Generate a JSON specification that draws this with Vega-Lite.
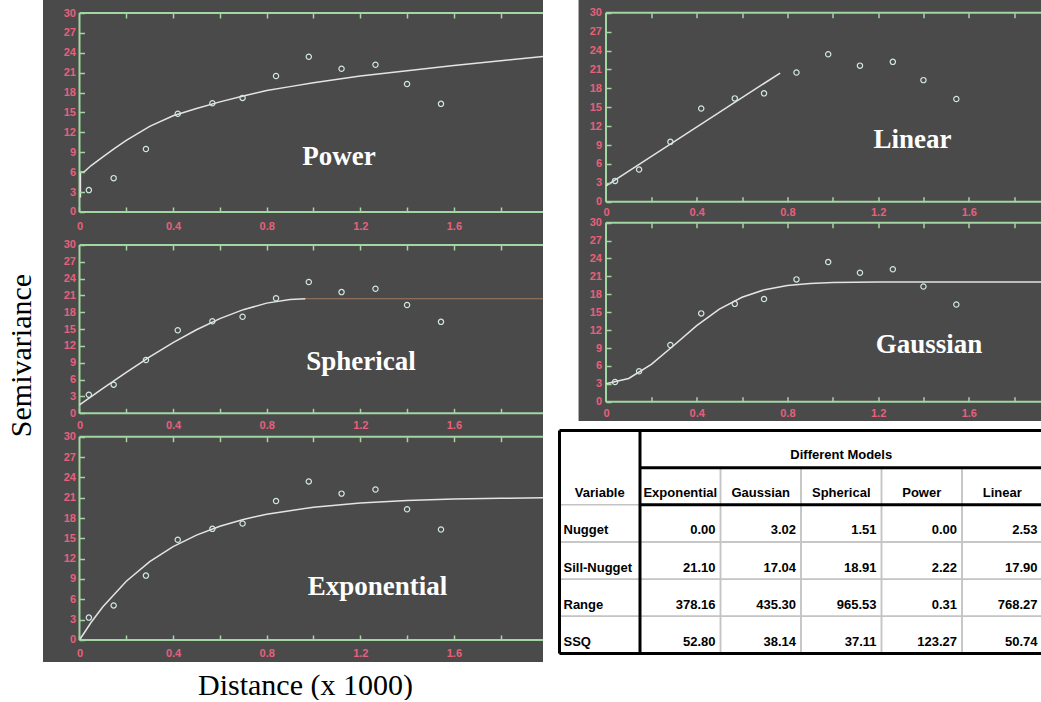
{
  "$schema": "https://vega.github.io/schema/vega-lite/v6.json",
  "background": "white",
  "padding": {"left": 6, "top": 0, "right": 0, "bottom": 0},
  "spacing": 14.5,
  "config": {
    "view": {"stroke": null},
    "axis": {
      "labelFont": "Liberation Sans", "labelFontSize": 11, "labelFontWeight": "bold", "labelColor": "#e8607c",
      "tickColor": "#a3d6a3", "tickWidth": 1.5, "tickSize": -5, "domain": false, "grid": false, "zindex": 1,
      "labelOverlap": false, "labelFlush": false, "labelBound": false, "labelAngle": 0
    }
  },
  "datasets": {
    "points": [
      {"d": 0.04, "g": 3.3}, {"d": 0.146, "g": 5.1}, {"d": 0.284, "g": 9.5}, {"d": 0.42, "g": 14.8},
      {"d": 0.568, "g": 16.4}, {"d": 0.697, "g": 17.2}, {"d": 0.84, "g": 20.5}, {"d": 0.98, "g": 23.4},
      {"d": 1.12, "g": 21.6}, {"d": 1.265, "g": 22.2}, {"d": 1.4, "g": 19.3}, {"d": 1.545, "g": 16.3}
    ],
    "curves": [
      {"m": "Power", "d": 0.004, "g": 2.2}, {"m": "Power", "d": 0.004, "g": 6.0}, {"m": "Power", "d": 0.02, "g": 6.05},
      {"m": "Power", "d": 0.05, "g": 7.0}, {"m": "Power", "d": 0.1, "g": 8.3}, {"m": "Power", "d": 0.15, "g": 9.6},
      {"m": "Power", "d": 0.2, "g": 10.8}, {"m": "Power", "d": 0.3, "g": 12.9}, {"m": "Power", "d": 0.4, "g": 14.5},
      {"m": "Power", "d": 0.5, "g": 15.6}, {"m": "Power", "d": 0.6, "g": 16.6}, {"m": "Power", "d": 0.7, "g": 17.5},
      {"m": "Power", "d": 0.8, "g": 18.3}, {"m": "Power", "d": 0.9, "g": 18.9}, {"m": "Power", "d": 1.0, "g": 19.5},
      {"m": "Power", "d": 1.2, "g": 20.5}, {"m": "Power", "d": 1.4, "g": 21.3}, {"m": "Power", "d": 1.6, "g": 22.1},
      {"m": "Power", "d": 1.8, "g": 22.8}, {"m": "Power", "d": 2.0, "g": 23.5},
      {"m": "Linear", "d": 0.0, "g": 2.53}, {"m": "Linear", "d": 0.768, "g": 20.43},
      {"m": "Spherical", "d": 0.0, "g": 1.51}, {"m": "Spherical", "d": 0.1, "g": 4.44}, {"m": "Spherical", "d": 0.2, "g": 7.3},
      {"m": "Spherical", "d": 0.3, "g": 10.04}, {"m": "Spherical", "d": 0.4, "g": 12.59}, {"m": "Spherical", "d": 0.5, "g": 14.89},
      {"m": "Spherical", "d": 0.6, "g": 16.87}, {"m": "Spherical", "d": 0.7, "g": 18.47}, {"m": "Spherical", "d": 0.8, "g": 19.64},
      {"m": "Spherical", "d": 0.9, "g": 20.29}, {"m": "Spherical", "d": 0.9655, "g": 20.42},
      {"m": "Spherical sill", "d": 0.9655, "g": 20.42}, {"m": "Spherical sill", "d": 2.0, "g": 20.42},
      {"m": "Exponential", "d": 0.0, "g": 0.0}, {"m": "Exponential", "d": 0.05, "g": 2.61}, {"m": "Exponential", "d": 0.1, "g": 4.9},
      {"m": "Exponential", "d": 0.2, "g": 8.67}, {"m": "Exponential", "d": 0.3, "g": 11.56}, {"m": "Exponential", "d": 0.4, "g": 13.78},
      {"m": "Exponential", "d": 0.5, "g": 15.48}, {"m": "Exponential", "d": 0.6, "g": 16.78}, {"m": "Exponential", "d": 0.7, "g": 17.79},
      {"m": "Exponential", "d": 0.8, "g": 18.56}, {"m": "Exponential", "d": 1.0, "g": 19.6}, {"m": "Exponential", "d": 1.2, "g": 20.22},
      {"m": "Exponential", "d": 1.4, "g": 20.58}, {"m": "Exponential", "d": 1.6, "g": 20.79}, {"m": "Exponential", "d": 1.8, "g": 20.92},
      {"m": "Exponential", "d": 2.0, "g": 20.99},
      {"m": "Gaussian", "d": 0.0, "g": 3.02}, {"m": "Gaussian", "d": 0.1, "g": 3.9}, {"m": "Gaussian", "d": 0.2, "g": 6.26},
      {"m": "Gaussian", "d": 0.3, "g": 9.46}, {"m": "Gaussian", "d": 0.4, "g": 12.74}, {"m": "Gaussian", "d": 0.5, "g": 15.51},
      {"m": "Gaussian", "d": 0.6, "g": 17.51}, {"m": "Gaussian", "d": 0.7, "g": 18.78}, {"m": "Gaussian", "d": 0.8, "g": 19.48},
      {"m": "Gaussian", "d": 0.9, "g": 19.82}, {"m": "Gaussian", "d": 1.0, "g": 19.97}, {"m": "Gaussian", "d": 1.2, "g": 20.05},
      {"m": "Gaussian", "d": 1.6, "g": 20.06}, {"m": "Gaussian", "d": 2.0, "g": 20.06}
    ],
    "cells": [
      {"r": "header", "c": "Variable", "t": "Variable"}, {"r": "header", "c": "Exponential", "t": "Exponential"},
      {"r": "header", "c": "Gaussian", "t": "Gaussian"}, {"r": "header", "c": "Spherical", "t": "Spherical"},
      {"r": "header", "c": "Power", "t": "Power"}, {"r": "header", "c": "Linear", "t": "Linear"},
      {"r": "Nugget", "c": "Variable", "t": "Nugget"}, {"r": "Nugget", "c": "Exponential", "t": "0.00"},
      {"r": "Nugget", "c": "Gaussian", "t": "3.02"}, {"r": "Nugget", "c": "Spherical", "t": "1.51"},
      {"r": "Nugget", "c": "Power", "t": "0.00"}, {"r": "Nugget", "c": "Linear", "t": "2.53"},
      {"r": "Sill-Nugget", "c": "Variable", "t": "Sill-Nugget"}, {"r": "Sill-Nugget", "c": "Exponential", "t": "21.10"},
      {"r": "Sill-Nugget", "c": "Gaussian", "t": "17.04"}, {"r": "Sill-Nugget", "c": "Spherical", "t": "18.91"},
      {"r": "Sill-Nugget", "c": "Power", "t": "2.22"}, {"r": "Sill-Nugget", "c": "Linear", "t": "17.90"},
      {"r": "Range", "c": "Variable", "t": "Range"}, {"r": "Range", "c": "Exponential", "t": "378.16"},
      {"r": "Range", "c": "Gaussian", "t": "435.30"}, {"r": "Range", "c": "Spherical", "t": "965.53"},
      {"r": "Range", "c": "Power", "t": "0.31"}, {"r": "Range", "c": "Linear", "t": "768.27"},
      {"r": "SSQ", "c": "Variable", "t": "SSQ"}, {"r": "SSQ", "c": "Exponential", "t": "52.80"},
      {"r": "SSQ", "c": "Gaussian", "t": "38.14"}, {"r": "SSQ", "c": "Spherical", "t": "37.11"},
      {"r": "SSQ", "c": "Power", "t": "123.27"}, {"r": "SSQ", "c": "Linear", "t": "50.74"}
    ]
  },
  "hconcat": [
    {
      "spacing": 0,
      "bounds": "flush",
      "vconcat": [
        {
          "width": 500, "height": 234,
          "view": {"fill": "#4a4a4a", "stroke": null},
          "data": {"values": [{}]},
          "resolve": {"axis": {"x": "independent"}},
          "layer": [
            {"mark": {"type": "rule", "color": "#a3d6a3", "strokeWidth": 2, "clip": true},
             "encoding": {"x": {"datum": 0, "type": "quantitative", "scale": {"domain": [-0.156, 1.981], "nice": false, "zero": false},
                                "axis": {"orient": "top", "values": [0.2, 0.4, 0.6, 0.8, 1.0, 1.2, 1.4, 1.6, 1.8], "tickCount": 30, "labels": false, "offset": -13, "title": null, "zindex": 1}},
                          "x2": {"datum": 2.3},
                          "y": {"datum": 30, "type": "quantitative", "scale": {"domain": [-3.32, 31.96], "nice": false, "zero": false}}}},
            {"mark": {"type": "rule", "color": "#a3d6a3", "strokeWidth": 2, "clip": true},
             "encoding": {"x": {"datum": 0, "type": "quantitative", "scale": {"domain": [-0.156, 1.981], "nice": false, "zero": false}, "axis": null},
                          "x2": {"datum": 2.3},
                          "y": {"datum": 0, "type": "quantitative", "scale": {"domain": [-3.32, 31.96], "nice": false, "zero": false}}}},
            {"mark": {"type": "rule", "color": "#a3d6a3", "strokeWidth": 2},
             "encoding": {"x": {"datum": 0, "type": "quantitative", "scale": {"domain": [-0.156, 1.981], "nice": false, "zero": false}, "axis": null},
                          "y": {"datum": 0, "type": "quantitative", "scale": {"domain": [-3.32, 31.96], "nice": false, "zero": false}},
                          "y2": {"datum": 30}}},
            {"data": {"name": "curves"}, "transform": [{"filter": "datum.m == 'Power'"}],
             "mark": {"type": "line", "color": "#e4e4e4", "strokeWidth": 1.5, "clip": true},
             "encoding": {"x": {"field": "d", "type": "quantitative", "scale": {"domain": [-0.156, 1.981], "nice": false, "zero": false}, "axis": null},
                          "y": {"field": "g", "type": "quantitative", "scale": {"domain": [-3.32, 31.96], "nice": false, "zero": false}},
                          "order": {"field": "g", "type": "quantitative"}}},
            {"data": {"name": "points"},
             "mark": {"type": "point", "shape": "circle", "filled": false, "color": "#d2e6e6", "strokeWidth": 1.2, "size": 28, "opacity": 1},
             "encoding": {"x": {"field": "d", "type": "quantitative", "scale": {"domain": [-0.156, 1.981], "nice": false, "zero": false},
                                "axis": {"values": [0, 0.2, 0.4, 0.6, 0.8, 1.0, 1.2, 1.4, 1.6, 1.8], "tickCount": 30, "format": "~g", "labelExpr": "round(datum.value*5) % 2 == 0 ? datum.label : ''", "offset": -22, "labelPadding": 13, "title": null, "zindex": 1, "labelOverlap": false}},
                          "y": {"field": "g", "type": "quantitative", "scale": {"domain": [-3.32, 31.96], "nice": false, "zero": false},
                                "axis": {"values": [0, 3, 6, 9, 12, 15, 18, 21, 24, 27, 30], "tickCount": 30, "format": "d", "offset": -36.5, "labelPadding": 9, "title": null, "zindex": 1, "labelOverlap": false}}}},
            {"mark": {"type": "text", "text": "Power", "font": "Liberation Serif", "fontSize": 27, "fontWeight": "bold", "color": "white", "align": "center", "baseline": "middle"},
             "encoding": {"x": {"datum": 1.109, "type": "quantitative", "scale": {"domain": [-0.156, 1.981], "nice": false, "zero": false}, "axis": null},
                          "y": {"datum": 8.3, "type": "quantitative", "scale": {"domain": [-3.32, 31.96], "nice": false, "zero": false}}}}
          ]
        },
        {
          "width": 500, "height": 196,
          "view": {"fill": "#4a4a4a", "stroke": null},
          "data": {"values": [{}]},
          "resolve": {"axis": {"x": "independent"}},
          "layer": [
            {"mark": {"type": "rule", "color": "#a3d6a3", "strokeWidth": 2, "clip": true},
             "encoding": {"x": {"datum": 0, "type": "quantitative", "scale": {"domain": [-0.156, 1.981], "nice": false, "zero": false},
                                "axis": {"orient": "top", "values": [0.2, 0.4, 0.6, 0.8, 1.0, 1.2, 1.4, 1.6, 1.8], "tickCount": 30, "labels": false, "offset": -11, "title": null, "zindex": 1}},
                          "x2": {"datum": 2.3},
                          "y": {"datum": 30, "type": "quantitative", "scale": {"domain": [-2.98, 31.96], "nice": false, "zero": false}}}},
            {"mark": {"type": "rule", "color": "#a3d6a3", "strokeWidth": 2, "clip": true},
             "encoding": {"x": {"datum": 0, "type": "quantitative", "scale": {"domain": [-0.156, 1.981], "nice": false, "zero": false}, "axis": null},
                          "x2": {"datum": 2.3},
                          "y": {"datum": 0, "type": "quantitative", "scale": {"domain": [-2.98, 31.96], "nice": false, "zero": false}}}},
            {"mark": {"type": "rule", "color": "#a3d6a3", "strokeWidth": 2},
             "encoding": {"x": {"datum": 0, "type": "quantitative", "scale": {"domain": [-0.156, 1.981], "nice": false, "zero": false}, "axis": null},
                          "y": {"datum": 0, "type": "quantitative", "scale": {"domain": [-2.98, 31.96], "nice": false, "zero": false}},
                          "y2": {"datum": 30}}},
            {"data": {"name": "curves"}, "transform": [{"filter": "datum.m == 'Spherical sill'"}],
             "mark": {"type": "line", "color": "#a07a5c", "strokeWidth": 1, "clip": true},
             "encoding": {"x": {"field": "d", "type": "quantitative", "scale": {"domain": [-0.156, 1.981], "nice": false, "zero": false}, "axis": null},
                          "y": {"field": "g", "type": "quantitative", "scale": {"domain": [-2.98, 31.96], "nice": false, "zero": false}}}},
            {"data": {"name": "curves"}, "transform": [{"filter": "datum.m == 'Spherical'"}],
             "mark": {"type": "line", "color": "#e4e4e4", "strokeWidth": 1.5, "clip": true},
             "encoding": {"x": {"field": "d", "type": "quantitative", "scale": {"domain": [-0.156, 1.981], "nice": false, "zero": false}, "axis": null},
                          "y": {"field": "g", "type": "quantitative", "scale": {"domain": [-2.98, 31.96], "nice": false, "zero": false}}}},
            {"data": {"name": "points"},
             "mark": {"type": "point", "shape": "circle", "filled": false, "color": "#d2e6e6", "strokeWidth": 1.2, "size": 28, "opacity": 1},
             "encoding": {"x": {"field": "d", "type": "quantitative", "scale": {"domain": [-0.156, 1.981], "nice": false, "zero": false},
                                "axis": {"values": [0, 0.2, 0.4, 0.6, 0.8, 1.0, 1.2, 1.4, 1.6, 1.8], "tickCount": 30, "format": "~g", "labelExpr": "round(datum.value*5) % 2 == 0 ? datum.label : ''", "offset": -16.7, "labelPadding": 11, "title": null, "zindex": 1, "labelOverlap": false}},
                          "y": {"field": "g", "type": "quantitative", "scale": {"domain": [-2.98, 31.96], "nice": false, "zero": false},
                                "axis": {"values": [0, 3, 6, 9, 12, 15, 18, 21, 24, 27, 30], "tickCount": 30, "format": "d", "offset": -36.5, "labelPadding": 9, "zindex": 1, "labelOverlap": false,
                                         "title": "Semivariance", "titleFont": "Liberation Serif", "titleFontSize": 30, "titleFontWeight": "normal", "titleColor": "black",
                                         "titleX": -58.5, "titleY": 121, "titleAngle": 270, "titleAlign": "center", "titleBaseline": "middle"}}}},
            {"mark": {"type": "text", "text": "Spherical", "font": "Liberation Serif", "fontSize": 27, "fontWeight": "bold", "color": "white", "align": "center", "baseline": "middle"},
             "encoding": {"x": {"datum": 1.203, "type": "quantitative", "scale": {"domain": [-0.156, 1.981], "nice": false, "zero": false}, "axis": null},
                          "y": {"datum": 9.14, "type": "quantitative", "scale": {"domain": [-2.98, 31.96], "nice": false, "zero": false}}}}
          ]
        },
        {
          "width": 500, "height": 232,
          "view": {"fill": "#4a4a4a", "stroke": null},
          "data": {"values": [{}]},
          "resolve": {"axis": {"x": "independent"}},
          "layer": [
            {"mark": {"type": "rule", "color": "#a3d6a3", "strokeWidth": 2, "clip": true},
             "encoding": {"x": {"datum": 0, "type": "quantitative", "scale": {"domain": [-0.156, 1.981], "nice": false, "zero": false},
                                "axis": {"orient": "top", "values": [0.2, 0.4, 0.6, 0.8, 1.0, 1.2, 1.4, 1.6, 1.8], "tickCount": 30, "labels": false, "offset": -6.7, "title": null, "zindex": 1}},
                          "x2": {"datum": 2.3},
                          "y": {"datum": 30, "type": "quantitative", "scale": {"domain": [-3.25, 30.99], "nice": false, "zero": false}}}},
            {"mark": {"type": "rule", "color": "#a3d6a3", "strokeWidth": 2, "clip": true},
             "encoding": {"x": {"datum": 0, "type": "quantitative", "scale": {"domain": [-0.156, 1.981], "nice": false, "zero": false}, "axis": null},
                          "x2": {"datum": 2.3},
                          "y": {"datum": 0, "type": "quantitative", "scale": {"domain": [-3.25, 30.99], "nice": false, "zero": false}}}},
            {"mark": {"type": "rule", "color": "#a3d6a3", "strokeWidth": 2},
             "encoding": {"x": {"datum": 0, "type": "quantitative", "scale": {"domain": [-0.156, 1.981], "nice": false, "zero": false}, "axis": null},
                          "y": {"datum": 0, "type": "quantitative", "scale": {"domain": [-3.25, 30.99], "nice": false, "zero": false}},
                          "y2": {"datum": 30}}},
            {"data": {"name": "curves"}, "transform": [{"filter": "datum.m == 'Exponential'"}],
             "mark": {"type": "line", "color": "#e4e4e4", "strokeWidth": 1.5, "clip": true},
             "encoding": {"x": {"field": "d", "type": "quantitative", "scale": {"domain": [-0.156, 1.981], "nice": false, "zero": false}, "axis": null},
                          "y": {"field": "g", "type": "quantitative", "scale": {"domain": [-3.25, 30.99], "nice": false, "zero": false}}}},
            {"data": {"name": "points"},
             "mark": {"type": "point", "shape": "circle", "filled": false, "color": "#d2e6e6", "strokeWidth": 1.2, "size": 28, "opacity": 1},
             "encoding": {"x": {"field": "d", "type": "quantitative", "scale": {"domain": [-0.156, 1.981], "nice": false, "zero": false},
                                "axis": {"values": [0, 0.2, 0.4, 0.6, 0.8, 1.0, 1.2, 1.4, 1.6, 1.8], "tickCount": 30, "format": "~g", "labelExpr": "round(datum.value*5) % 2 == 0 ? datum.label : ''", "offset": -22, "labelPadding": 12.5, "zindex": 1, "labelOverlap": false,
                                         "title": "Distance (x 1000)", "titleFont": "Liberation Serif", "titleFontSize": 30, "titleFontWeight": "normal", "titleColor": "black",
                                         "titleX": 262, "titleY": 45, "titleAlign": "center", "titleBaseline": "middle"}},
                          "y": {"field": "g", "type": "quantitative", "scale": {"domain": [-3.25, 30.99], "nice": false, "zero": false},
                                "axis": {"values": [0, 3, 6, 9, 12, 15, 18, 21, 24, 27, 30], "tickCount": 30, "format": "d", "offset": -36.5, "labelPadding": 9, "title": null, "zindex": 1, "labelOverlap": false}}}},
            {"mark": {"type": "text", "text": "Exponential", "font": "Liberation Serif", "fontSize": 27, "fontWeight": "bold", "color": "white", "align": "center", "baseline": "middle"},
             "encoding": {"x": {"datum": 1.274, "type": "quantitative", "scale": {"domain": [-0.156, 1.981], "nice": false, "zero": false}, "axis": null},
                          "y": {"datum": 7.86, "type": "quantitative", "scale": {"domain": [-3.25, 30.99], "nice": false, "zero": false}}}}
          ]
        }
      ]
    },
    {
      "spacing": 7.5,
      "vconcat": [
        {
          "spacing": 0,
          "bounds": "flush",
          "vconcat": [
            {
              "width": 483, "height": 216,
              "view": {"stroke": null},
              "data": {"values": [{}]},
              "resolve": {"axis": {"x": "independent"}},
              "layer": [
                {"mark": {"type": "rect", "color": "#4a4a4a"},
                 "encoding": {"x": {"datum": -0.121, "type": "quantitative", "scale": {"domain": [-0.205, 1.925], "nice": false, "zero": false}, "axis": null},
                              "x2": {"datum": 1.925},
                              "y": {"datum": -2.27, "type": "quantitative", "scale": {"domain": [-2.27, 32.02], "nice": false, "zero": false}},
                              "y2": {"datum": 32.02}}},
                {"mark": {"type": "rule", "color": "#a3d6a3", "strokeWidth": 2, "clip": true},
                 "encoding": {"x": {"datum": 0, "type": "quantitative", "scale": {"domain": [-0.205, 1.925], "nice": false, "zero": false},
                                    "axis": {"orient": "top", "values": [0.2, 0.4, 0.6, 0.8, 1.0, 1.2, 1.4, 1.6, 1.8], "tickCount": 30, "labels": false, "offset": -12.7, "title": null, "zindex": 1}},
                              "x2": {"datum": 2.3},
                              "y": {"datum": 30, "type": "quantitative", "scale": {"domain": [-2.27, 32.02], "nice": false, "zero": false}}}},
                {"mark": {"type": "rule", "color": "#a3d6a3", "strokeWidth": 2, "clip": true},
                 "encoding": {"x": {"datum": 0, "type": "quantitative", "scale": {"domain": [-0.205, 1.925], "nice": false, "zero": false}, "axis": null},
                              "x2": {"datum": 2.3},
                              "y": {"datum": 0, "type": "quantitative", "scale": {"domain": [-2.27, 32.02], "nice": false, "zero": false}}}},
                {"mark": {"type": "rule", "color": "#a3d6a3", "strokeWidth": 2},
                 "encoding": {"x": {"datum": 0, "type": "quantitative", "scale": {"domain": [-0.205, 1.925], "nice": false, "zero": false}, "axis": null},
                              "y": {"datum": 0, "type": "quantitative", "scale": {"domain": [-2.27, 32.02], "nice": false, "zero": false}},
                              "y2": {"datum": 30}}},
                {"data": {"name": "curves"}, "transform": [{"filter": "datum.m == 'Linear'"}],
                 "mark": {"type": "line", "color": "#e4e4e4", "strokeWidth": 1.5, "clip": true},
                 "encoding": {"x": {"field": "d", "type": "quantitative", "scale": {"domain": [-0.205, 1.925], "nice": false, "zero": false}, "axis": null},
                              "y": {"field": "g", "type": "quantitative", "scale": {"domain": [-2.27, 32.02], "nice": false, "zero": false}}}},
                {"data": {"name": "points"},
                 "mark": {"type": "point", "shape": "circle", "filled": false, "color": "#d2e6e6", "strokeWidth": 1.2, "size": 28, "opacity": 1},
                 "encoding": {"x": {"field": "d", "type": "quantitative", "scale": {"domain": [-0.205, 1.925], "nice": false, "zero": false},
                                    "axis": {"values": [0, 0.2, 0.4, 0.6, 0.8, 1.0, 1.2, 1.4, 1.6, 1.8], "tickCount": 30, "format": "~g", "labelExpr": "round(datum.value*5) % 2 == 0 ? datum.label : ''", "offset": -14.3, "labelPadding": 10, "title": null, "zindex": 1, "labelOverlap": false}},
                              "y": {"field": "g", "type": "quantitative", "scale": {"domain": [-2.27, 32.02], "nice": false, "zero": false},
                                    "axis": {"values": [0, 3, 6, 9, 12, 15, 18, 21, 24, 27, 30], "tickCount": 30, "format": "d", "offset": -46.5, "labelPadding": 9.5, "title": null, "zindex": 1, "labelOverlap": false}}}},
                {"mark": {"type": "text", "text": "Linear", "font": "Liberation Serif", "fontSize": 27, "fontWeight": "bold", "color": "white", "align": "center", "baseline": "middle"},
                 "encoding": {"x": {"datum": 1.352, "type": "quantitative", "scale": {"domain": [-0.205, 1.925], "nice": false, "zero": false}, "axis": null},
                              "y": {"datum": 9.84, "type": "quantitative", "scale": {"domain": [-2.27, 32.02], "nice": false, "zero": false}}}}
              ]
            },
            {
              "width": 483, "height": 205,
              "view": {"stroke": null},
              "data": {"values": [{}]},
              "resolve": {"axis": {"x": "independent"}},
              "layer": [
                {"mark": {"type": "rect", "color": "#4a4a4a"},
                 "encoding": {"x": {"datum": -0.121, "type": "quantitative", "scale": {"domain": [-0.205, 1.925], "nice": false, "zero": false}, "axis": null},
                              "x2": {"datum": 1.925},
                              "y": {"datum": -3.23, "type": "quantitative", "scale": {"domain": [-3.23, 31.12], "nice": false, "zero": false}},
                              "y2": {"datum": 31.12}}},
                {"mark": {"type": "rule", "color": "#a3d6a3", "strokeWidth": 2, "clip": true},
                 "encoding": {"x": {"datum": 0, "type": "quantitative", "scale": {"domain": [-0.205, 1.925], "nice": false, "zero": false},
                                    "axis": {"orient": "top", "values": [0.2, 0.4, 0.6, 0.8, 1.0, 1.2, 1.4, 1.6, 1.8], "tickCount": 30, "labels": false, "offset": -6.7, "title": null, "zindex": 1}},
                              "x2": {"datum": 2.3},
                              "y": {"datum": 30, "type": "quantitative", "scale": {"domain": [-3.23, 31.12], "nice": false, "zero": false}}}},
                {"mark": {"type": "rule", "color": "#a3d6a3", "strokeWidth": 2, "clip": true},
                 "encoding": {"x": {"datum": 0, "type": "quantitative", "scale": {"domain": [-0.205, 1.925], "nice": false, "zero": false}, "axis": null},
                              "x2": {"datum": 2.3},
                              "y": {"datum": 0, "type": "quantitative", "scale": {"domain": [-3.23, 31.12], "nice": false, "zero": false}}}},
                {"mark": {"type": "rule", "color": "#a3d6a3", "strokeWidth": 2},
                 "encoding": {"x": {"datum": 0, "type": "quantitative", "scale": {"domain": [-0.205, 1.925], "nice": false, "zero": false}, "axis": null},
                              "y": {"datum": 0, "type": "quantitative", "scale": {"domain": [-3.23, 31.12], "nice": false, "zero": false}},
                              "y2": {"datum": 30}}},
                {"data": {"name": "curves"}, "transform": [{"filter": "datum.m == 'Gaussian'"}],
                 "mark": {"type": "line", "color": "#e4e4e4", "strokeWidth": 1.5, "clip": true},
                 "encoding": {"x": {"field": "d", "type": "quantitative", "scale": {"domain": [-0.205, 1.925], "nice": false, "zero": false}, "axis": null},
                              "y": {"field": "g", "type": "quantitative", "scale": {"domain": [-3.23, 31.12], "nice": false, "zero": false}}}},
                {"data": {"name": "points"},
                 "mark": {"type": "point", "shape": "circle", "filled": false, "color": "#d2e6e6", "strokeWidth": 1.2, "size": 28, "opacity": 1},
                 "encoding": {"x": {"field": "d", "type": "quantitative", "scale": {"domain": [-0.205, 1.925], "nice": false, "zero": false},
                                    "axis": {"values": [0, 0.2, 0.4, 0.6, 0.8, 1.0, 1.2, 1.4, 1.6, 1.8], "tickCount": 30, "format": "~g", "labelExpr": "round(datum.value*5) % 2 == 0 ? datum.label : ''", "offset": -19.3, "labelPadding": 11, "title": null, "zindex": 1, "labelOverlap": false}},
                              "y": {"field": "g", "type": "quantitative", "scale": {"domain": [-3.23, 31.12], "nice": false, "zero": false},
                                    "axis": {"values": [0, 3, 6, 9, 12, 15, 18, 21, 24, 27, 30], "tickCount": 30, "format": "d", "offset": -46.5, "labelPadding": 9.5, "title": null, "zindex": 1, "labelOverlap": false}}}},
                {"mark": {"type": "text", "text": "Gaussian", "font": "Liberation Serif", "fontSize": 27, "fontWeight": "bold", "color": "white", "align": "center", "baseline": "middle"},
                 "encoding": {"x": {"datum": 1.425, "type": "quantitative", "scale": {"domain": [-0.205, 1.925], "nice": false, "zero": false}, "axis": null},
                              "y": {"datum": 9.5, "type": "quantitative", "scale": {"domain": [-3.23, 31.12], "nice": false, "zero": false}}}}
              ]
            }
          ]
        },
        {
          "width": 483, "height": 223,
          "view": {"fill": "white", "stroke": null},
          "data": {"values": [{}]},
          "layer": [
            {"data": {"name": "cells"}, "transform": [{"filter": "!(datum.r == 'header' && datum.c == 'Variable')"}],
             "mark": {"type": "rect", "filled": false, "color": "#c4c4c4", "strokeWidth": 1.5},
             "encoding": {"x": {"field": "c", "type": "nominal", "scale": {"type": "band", "domain": ["Variable", "Exponential", "Gaussian", "Spherical", "Power", "Linear"], "paddingInner": 0, "paddingOuter": 0}, "axis": null},
                          "y": {"field": "r", "type": "nominal", "scale": {"type": "band", "domain": ["top", "header", "Nugget", "Sill-Nugget", "Range", "SSQ"], "paddingInner": 0, "paddingOuter": 0}, "axis": null}}},
            {"mark": {"type": "rule", "color": "black", "strokeWidth": 3},
             "encoding": {"y": {"datum": "top", "type": "nominal", "bandPosition": 0, "scale": {"type": "band", "domain": ["top", "header", "Nugget", "Sill-Nugget", "Range", "SSQ"], "paddingInner": 0, "paddingOuter": 0}, "axis": null}}},
            {"mark": {"type": "rule", "color": "black", "strokeWidth": 3},
             "encoding": {"y": {"datum": "SSQ", "type": "nominal", "bandPosition": 1, "scale": {"type": "band", "domain": ["top", "header", "Nugget", "Sill-Nugget", "Range", "SSQ"], "paddingInner": 0, "paddingOuter": 0}, "axis": null}}},
            {"mark": {"type": "rule", "color": "black", "strokeWidth": 3},
             "encoding": {"x": {"datum": "Variable", "type": "nominal", "bandPosition": 0, "scale": {"type": "band", "domain": ["Variable", "Exponential", "Gaussian", "Spherical", "Power", "Linear"], "paddingInner": 0, "paddingOuter": 0}, "axis": null}}},
            {"mark": {"type": "rule", "color": "black", "strokeWidth": 3},
             "encoding": {"x": {"datum": "Exponential", "type": "nominal", "bandPosition": 0, "scale": {"type": "band", "domain": ["Variable", "Exponential", "Gaussian", "Spherical", "Power", "Linear"], "paddingInner": 0, "paddingOuter": 0}, "axis": null}}},
            {"mark": {"type": "rule", "color": "black", "strokeWidth": 3},
             "encoding": {"x": {"datum": "Exponential", "type": "nominal", "bandPosition": 0, "scale": {"type": "band", "domain": ["Variable", "Exponential", "Gaussian", "Spherical", "Power", "Linear"], "paddingInner": 0, "paddingOuter": 0}, "axis": null},
                          "x2": {"datum": "Linear", "bandPosition": 1},
                          "y": {"datum": "header", "type": "nominal", "bandPosition": 0, "scale": {"type": "band", "domain": ["top", "header", "Nugget", "Sill-Nugget", "Range", "SSQ"], "paddingInner": 0, "paddingOuter": 0}, "axis": null}}},
            {"mark": {"type": "rule", "color": "black", "strokeWidth": 3},
             "encoding": {"x": {"datum": "Exponential", "type": "nominal", "bandPosition": 0, "scale": {"type": "band", "domain": ["Variable", "Exponential", "Gaussian", "Spherical", "Power", "Linear"], "paddingInner": 0, "paddingOuter": 0}, "axis": null},
                          "x2": {"datum": "Linear", "bandPosition": 1},
                          "y": {"datum": "Nugget", "type": "nominal", "bandPosition": 0, "scale": {"type": "band", "domain": ["top", "header", "Nugget", "Sill-Nugget", "Range", "SSQ"], "paddingInner": 0, "paddingOuter": 0}, "axis": null}}},
            {"mark": {"type": "text", "text": "Different Models", "font": "Liberation Sans", "fontSize": 13, "fontWeight": "bold", "color": "black", "align": "center", "baseline": "middle", "dy": 6},
             "encoding": {"x": {"datum": "Spherical", "type": "nominal", "scale": {"type": "band", "domain": ["Variable", "Exponential", "Gaussian", "Spherical", "Power", "Linear"], "paddingInner": 0, "paddingOuter": 0}, "axis": null},
                          "y": {"datum": "top", "type": "nominal", "scale": {"type": "band", "domain": ["top", "header", "Nugget", "Sill-Nugget", "Range", "SSQ"], "paddingInner": 0, "paddingOuter": 0}, "axis": null}}},
            {"data": {"name": "cells"}, "transform": [{"filter": "datum.r == 'header'"}],
             "mark": {"type": "text", "font": "Liberation Sans", "fontSize": 13, "fontWeight": "bold", "color": "black", "align": "center", "baseline": "middle", "dy": 7},
             "encoding": {"x": {"field": "c", "type": "nominal", "scale": {"type": "band", "domain": ["Variable", "Exponential", "Gaussian", "Spherical", "Power", "Linear"], "paddingInner": 0, "paddingOuter": 0}, "axis": null},
                          "y": {"field": "r", "type": "nominal", "scale": {"type": "band", "domain": ["top", "header", "Nugget", "Sill-Nugget", "Range", "SSQ"], "paddingInner": 0, "paddingOuter": 0}, "axis": null},
                          "text": {"field": "t"}}},
            {"data": {"name": "cells"}, "transform": [{"filter": "datum.r != 'header' && datum.c == 'Variable'"}],
             "mark": {"type": "text", "font": "Liberation Sans", "fontSize": 13, "fontWeight": "bold", "color": "black", "align": "left", "baseline": "middle", "dy": 7, "dx": 4},
             "encoding": {"x": {"field": "c", "type": "nominal", "bandPosition": 0, "scale": {"type": "band", "domain": ["Variable", "Exponential", "Gaussian", "Spherical", "Power", "Linear"], "paddingInner": 0, "paddingOuter": 0}, "axis": null},
                          "y": {"field": "r", "type": "nominal", "scale": {"type": "band", "domain": ["top", "header", "Nugget", "Sill-Nugget", "Range", "SSQ"], "paddingInner": 0, "paddingOuter": 0}, "axis": null},
                          "text": {"field": "t"}}},
            {"data": {"name": "cells"}, "transform": [{"filter": "datum.r != 'header' && datum.c != 'Variable'"}],
             "mark": {"type": "text", "font": "Liberation Sans", "fontSize": 13, "fontWeight": "bold", "color": "black", "align": "right", "baseline": "middle", "dy": 7, "dx": -5},
             "encoding": {"x": {"field": "c", "type": "nominal", "bandPosition": 1, "scale": {"type": "band", "domain": ["Variable", "Exponential", "Gaussian", "Spherical", "Power", "Linear"], "paddingInner": 0, "paddingOuter": 0}, "axis": null},
                          "y": {"field": "r", "type": "nominal", "scale": {"type": "band", "domain": ["top", "header", "Nugget", "Sill-Nugget", "Range", "SSQ"], "paddingInner": 0, "paddingOuter": 0}, "axis": null},
                          "text": {"field": "t"}}}
          ]
        }
      ]
    }
  ]
}
